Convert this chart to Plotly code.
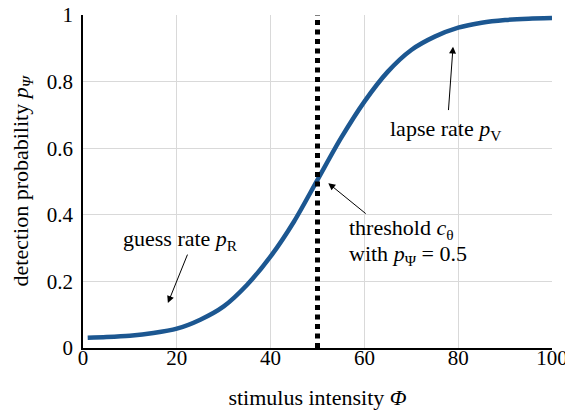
import plotly.graph_objects as go

# Data
intensity = [1, 5, 10, 15, 20, 25, 30, 35, 40, 45, 50, 55, 60, 65, 70, 75, 80, 85, 90, 95, 100]
probability = [0.031, 0.033, 0.037, 0.045, 0.058, 0.085, 0.125, 0.19, 0.275, 0.38, 0.505,
               0.63, 0.74, 0.83, 0.895, 0.935, 0.962, 0.977, 0.985, 0.989, 0.991]
threshold_x = [50, 50]
threshold_y = [0, 1]
x_ticks = [0, 20, 40, 60, 80, 100]
y_ticks = [0, 0.2, 0.4, 0.6, 0.8, 1]
y_tick_labels = ["0", "0.2", "0.4", "0.6", "0.8", "1"]

FONT = "Liberation Serif"
TXT = 22
fig = go.Figure()
fig.add_trace(go.Scatter(x=intensity, y=probability, mode="lines",
                         line=dict(color="#1c5791", width=4.5, shape="spline", smoothing=0.8),
                         hoverinfo="skip"))
fig.add_trace(go.Scatter(x=threshold_x, y=threshold_y, mode="lines",
                         line=dict(color="black", width=5, dash="5px,4.5px"),
                         hoverinfo="skip"))

txt = dict(font=dict(family=FONT, size=TXT, color="black"), showarrow=False,
           xref="x", yref="y")
arr = dict(showarrow=True, arrowhead=2, arrowsize=1.4, arrowwidth=1, arrowcolor="black",
           xref="x", yref="y", axref="x", ayref="y", text="")
annotations = [
    dict(x=20.7, y=0.325, text="guess rate <i>p</i><sub>R</sub>", **txt),
    dict(x=18.1, y=0.135, ax=22.4, ay=0.285, **arr),
    dict(x=77.3, y=0.655, text="lapse rate <i>p</i><sub>V</sub>", **txt),
    dict(x=78.9, y=0.905, ax=77.9, ay=0.71, **arr),
    dict(x=56.3, y=0.357, xanchor="left",
         text="threshold <i>c</i><sub>θ</sub>", **txt),
    dict(x=56.3, y=0.28, xanchor="left",
         text="with <i>p</i><sub>Ψ</sub> = 0.5", **txt),
    dict(x=52.3, y=0.495, ax=60.6, ay=0.40, **arr),
]

# The page body adds an 8px offset, so the figure is 8px smaller and margins shifted.
fig.update_layout(
    width=565, height=402,
    margin=dict(l=75, r=21, t=7, b=62),
    paper_bgcolor="white", plot_bgcolor="white",
    showlegend=False,
    font=dict(family=FONT, size=21, color="black"),
    annotations=annotations,
    xaxis=dict(range=[0, 100], tickvals=x_ticks, showgrid=True, gridcolor="#d9d9d9",
               gridwidth=1, showline=True, linecolor="black", linewidth=1.5,
               zeroline=False, ticks="", ticklabelstandoff=-10, automargin=False,
               ticklabeloverflow="allow",
               tickfont=dict(family=FONT, size=21),
               title=dict(text="stimulus intensity <i>Φ</i>", standoff=21,
                          font=dict(family=FONT, size=TXT))),
    yaxis=dict(range=[0, 1], tickvals=y_ticks, ticktext=y_tick_labels, showgrid=True,
               gridcolor="#d9d9d9", gridwidth=1, showline=True, linecolor="black",
               linewidth=1.5, zeroline=False, ticks="", ticklabelstandoff=4,
               automargin=False, ticklabeloverflow="allow",
               tickfont=dict(family=FONT, size=21),
               title=dict(text="detection probability <i>p</i><sub><i>Ψ</i></sub>",
                          standoff=13, font=dict(family=FONT, size=TXT))),
)
fig.write_html("out.html")
